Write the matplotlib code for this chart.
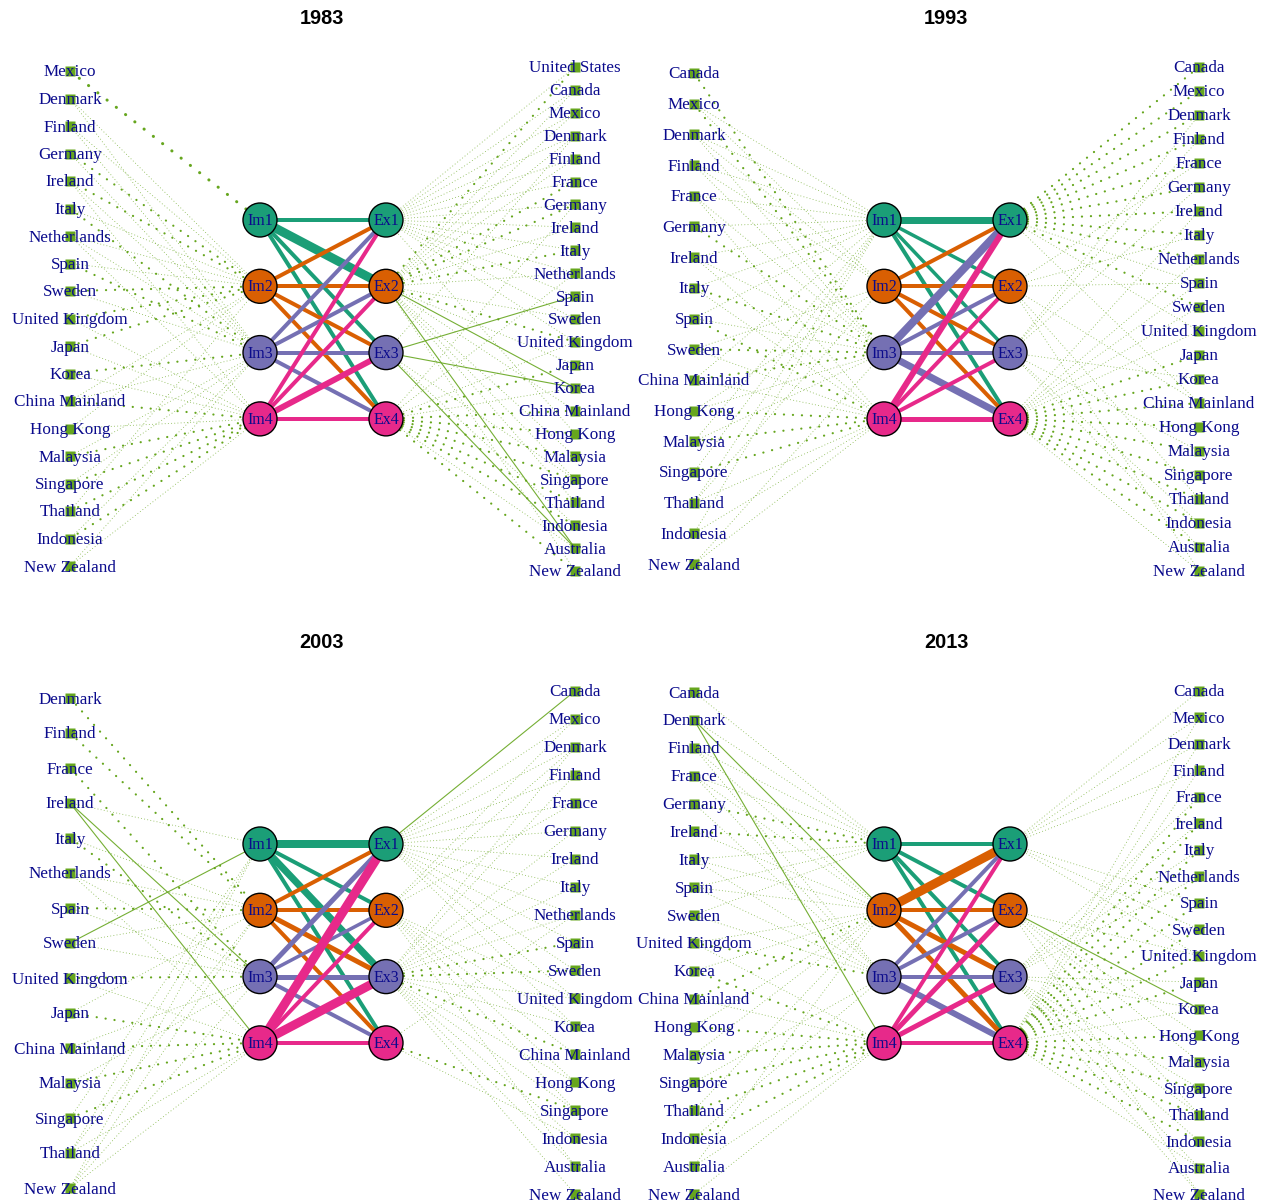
import matplotlib
matplotlib.use("Agg")
import matplotlib.pyplot as plt
from matplotlib.patches import Circle

# ---- data ---------------------------------------------------------------
# left countries -> weights to (Im1, Im2, Im3, Im4)
# right countries -> weights from (Ex1, Ex2, Ex3, Ex4)
# 0 none, 1 thin dotted, 2 medium dotted, 3 heavy dotted, 4 thin solid
left_1983 = {
    "Mexico": (3, 0, 0, 0), "Denmark": (0, 1, 1, 0), "Finland": (0, 1, 1, 0),
    "Germany": (0, 2, 1, 0), "Ireland": (0, 2, 1, 1), "Italy": (0, 1, 2, 0),
    "Netherlands": (0, 1, 1, 1), "Spain": (0, 1, 2, 0), "Sweden": (0, 2, 1, 0),
    "United Kingdom": (0, 2, 0, 1), "Japan": (0, 2, 0, 1), "Korea": (0, 0, 2, 1),
    "China Mainland": (0, 1, 1, 2), "Hong Kong": (0, 1, 0, 1), "Malaysia": (0, 0, 1, 2),
    "Singapore": (0, 0, 1, 2), "Thailand": (0, 1, 0, 2), "Indonesia": (0, 0, 1, 2),
    "New Zealand": (0, 0, 1, 1),
}
right_1983 = {
    "United States": (1, 2, 0, 0), "Canada": (1, 1, 0, 0), "Mexico": (1, 1, 0, 0),
    "Denmark": (1, 1, 1, 0), "Finland": (1, 1, 0, 0), "France": (1, 2, 0, 0),
    "Germany": (1, 2, 0, 1), "Ireland": (1, 1, 0, 0), "Italy": (1, 2, 0, 0),
    "Netherlands": (1, 1, 0, 1), "Spain": (1, 0, 4, 0), "Sweden": (1, 1, 0, 0),
    "United Kingdom": (1, 2, 0, 1), "Japan": (0, 1, 0, 2), "Korea": (0, 4, 4, 1),
    "China Mainland": (0, 1, 0, 2), "Hong Kong": (1, 0, 0, 2), "Malaysia": (0, 1, 0, 2),
    "Singapore": (0, 1, 1, 2), "Thailand": (0, 1, 0, 2), "Indonesia": (0, 0, 1, 2),
    "Australia": (0, 4, 4, 1), "New Zealand": (0, 1, 0, 2),
}
core_1983 = [[4, 9, 4, 4], [4, 4, 4, 4], [4, 4, 4, 4], [4, 4, 6, 4]]

left_1993 = {
    "Canada": (0, 0, 2, 0), "Mexico": (1, 1, 2, 0), "Denmark": (1, 1, 1, 0),
    "Finland": (1, 1, 1, 0), "France": (1, 0, 1, 1), "Germany": (1, 0, 2, 0),
    "Ireland": (1, 0, 1, 1), "Italy": (1, 0, 2, 1), "Spain": (1, 0, 1, 2),
    "Sweden": (0, 1, 2, 1), "China Mainland": (1, 0, 2, 1), "Hong Kong": (0, 1, 1, 2),
    "Malaysia": (1, 0, 1, 2), "Singapore": (1, 0, 0, 2), "Thailand": (1, 1, 0, 1),
    "Indonesia": (1, 0, 0, 1), "New Zealand": (0, 0, 1, 1),
}
right_1993 = {
    "Canada": (2, 0, 0, 0), "Mexico": (2, 0, 0, 0), "Denmark": (2, 0, 1, 0),
    "Finland": (2, 0, 1, 0), "France": (2, 1, 0, 0), "Germany": (2, 0, 1, 0),
    "Ireland": (2, 0, 0, 1), "Italy": (2, 1, 0, 0), "Netherlands": (2, 0, 0, 1),
    "Spain": (1, 1, 0, 1), "Sweden": (2, 0, 0, 1), "United Kingdom": (1, 0, 0, 1),
    "Japan": (0, 0, 0, 2), "Korea": (0, 0, 1, 2), "China Mainland": (1, 1, 0, 2),
    "Hong Kong": (0, 0, 0, 2), "Malaysia": (0, 0, 1, 2), "Singapore": (0, 0, 0, 2),
    "Thailand": (0, 1, 0, 2), "Indonesia": (0, 0, 1, 2), "Australia": (0, 0, 1, 2),
    "New Zealand": (0, 1, 0, 1),
}
core_1993 = [[7, 3.5, 3.5, 4], [4, 4, 4, 4], [8, 4, 4, 7], [6, 4, 4, 5]]

left_2003 = {
    "Denmark": (0, 2, 0, 0), "Finland": (0, 2, 0, 0), "France": (0, 0, 2, 0),
    "Ireland": (1, 0, 4, 4), "Italy": (0, 1, 2, 0), "Netherlands": (0, 1, 1, 1),
    "Spain": (0, 2, 1, 0), "Sweden": (4, 1, 1, 0), "United Kingdom": (0, 0, 2, 1),
    "Japan": (0, 1, 0, 2), "China Mainland": (0, 0, 1, 2), "Malaysia": (0, 0, 1, 2),
    "Singapore": (1, 0, 0, 2), "Thailand": (1, 1, 0, 1), "New Zealand": (1, 1, 1, 1),
}
right_2003 = {
    "Canada": (4, 0, 0, 0), "Mexico": (1, 1, 0, 0), "Denmark": (1, 1, 1, 0),
    "Finland": (1, 0, 1, 0), "France": (1, 1, 0, 0), "Germany": (1, 0, 1, 0),
    "Ireland": (1, 0, 1, 0), "Italy": (1, 0, 1, 0), "Netherlands": (1, 0, 1, 1),
    "Spain": (1, 0, 2, 0), "Sweden": (1, 0, 2, 0), "United Kingdom": (1, 1, 1, 0),
    "Korea": (1, 1, 1, 0), "China Mainland": (0, 1, 2, 0), "Hong Kong": (0, 1, 1, 0),
    "Singapore": (0, 1, 1, 2), "Indonesia": (0, 0, 1, 1), "Australia": (0, 1, 1, 0),
    "New Zealand": (0, 0, 1, 0),
}
core_2003 = [[8, 4, 7, 4], [4, 4, 5, 4], [5, 3.5, 5, 4], [9, 4, 9, 4]]

left_2013 = {
    "Canada": (1, 0, 0, 0), "Denmark": (1, 4, 0, 4), "Finland": (1, 1, 1, 0),
    "France": (1, 1, 1, 0), "Germany": (2, 0, 1, 0), "Ireland": (2, 1, 0, 0),
    "Italy": (1, 1, 1, 0), "Spain": (1, 1, 1, 0), "Sweden": (1, 0, 1, 0),
    "United Kingdom": (0, 1, 2, 1), "Korea": (0, 1, 0, 2), "China Mainland": (0, 2, 0, 1),
    "Hong Kong": (0, 1, 0, 2), "Malaysia": (0, 1, 0, 2), "Singapore": (0, 0, 1, 2),
    "Thailand": (0, 1, 0, 2), "Indonesia": (0, 0, 1, 2), "Australia": (0, 1, 0, 1),
    "New Zealand": (0, 0, 0, 1),
}
right_2013 = {
    "Canada": (1, 0, 0, 0), "Mexico": (1, 0, 0, 1), "Denmark": (1, 0, 0, 1),
    "Finland": (1, 0, 0, 1), "France": (0, 0, 1, 2), "Ireland": (0, 0, 1, 2),
    "Italy": (0, 0, 1, 2), "Netherlands": (0, 0, 1, 2), "Spain": (1, 0, 0, 2),
    "Sweden": (1, 0, 0, 2), "United Kingdom": (1, 1, 0, 2), "Japan": (0, 0, 1, 2),
    "Korea": (0, 4, 1, 1), "Hong Kong": (0, 1, 0, 2), "Malaysia": (0, 1, 0, 2),
    "Singapore": (0, 0, 1, 2), "Thailand": (0, 1, 1, 2), "Indonesia": (0, 0, 1, 2),
    "Australia": (0, 0, 1, 1), "New Zealand": (0, 1, 1, 0),
}
core_2013 = [[4, 4, 4, 4], [9, 4, 5, 5], [4, 4, 4, 6], [4, 5, 5, 4]]

years = ["1983", "1993", "2003", "2013"]
lefts = [left_1983, left_1993, left_2003, left_2013]
rights = [right_1983, right_1993, right_2003, right_2013]
cores = [core_1983, core_1993, core_2003, core_2013]

# ---- layout / style -----------------------------------------------------
W, H = 1267, 1204
node_cols = ["#1B9E77", "#D95F02", "#7570B3", "#E7298A"]
green = "#66A61E"
label_col = "#0A0A8C"
px = 0.72  # points per pixel at dpi 100
serif = ["Liberation Serif", "DejaVu Serif"]

panel_dx, panel_dy = 624, 624
x_left, x_im, x_ex, x_right = 70, 260, 386, 575
node_y0, node_dy, node_r = 220, 66.3, 17
left_span = [(71, 566), (73, 564), (74, 564), (68, 570)]
right_span = [(67, 571), (67, 571), (67, 570), (67, 570)]

edge_style = {
    1: dict(lw=0.75, ls=(0, (0.05, 3.0)), alpha=0.75),
    2: dict(lw=1.6, ls=(0, (0.05, 4.0)), alpha=1.0),
    3: dict(lw=2.2, ls=(0, (0.05, 3.8)), alpha=1.0),
    4: dict(lw=0.8, ls="-", alpha=0.9),
}

fig = plt.figure(figsize=(W / 100, H / 100), dpi=100)
ax = fig.add_axes([0, 0, 1, 1])
ax.set_xlim(0, W)
ax.set_ylim(H, 0)
ax.axis("off")


def spread(n, top, bottom):
    step = (bottom - top) / (n - 1)
    return [top + i * step for i in range(n)]


def link(x1, y1, x2, y2, code):
    st = edge_style[code]
    ax.plot([x1, x2], [y1, y2], color=green, lw=st["lw"], ls=st["ls"],
            alpha=st["alpha"], dash_capstyle="round", solid_capstyle="round",
            zorder=1)


def country(x, y, name):
    ax.plot(x, y, "s", ms=6.8, color=green, mec="none", zorder=4)
    ax.text(x, y + 1.5, name, ha="center", va="center", color=label_col,
            fontsize=12.3, family=serif, zorder=5)


for p, year in enumerate(years):
    ox = (p % 2) * panel_dx
    oy = (p // 2) * panel_dy
    ny = [oy + node_y0 + k * node_dy for k in range(4)]
    xi, xe = ox + x_im, ox + x_ex
    xl, xr = ox + x_left, ox + x_right

    ax.text(ox + 322, oy + 19, year, ha="center", va="center",
            fontsize=14.4, fontweight="bold", family="Liberation Sans")

    # importer side
    names = list(lefts[p].keys())
    ys = spread(len(names), oy + left_span[p][0], oy + left_span[p][1])
    for name, y in zip(names, ys):
        for k, code in enumerate(lefts[p][name]):
            if code:
                link(xl, y, xi, ny[k], code)
        country(xl, y, name)

    # exporter side
    names = list(rights[p].keys())
    ys = spread(len(names), oy + right_span[p][0], oy + right_span[p][1])
    for name, y in zip(names, ys):
        for k, code in enumerate(rights[p][name]):
            if code:
                link(xe, ny[k], xr, y, code)
        country(xr, y, name)

    # Im -> Ex links
    for i in range(4):
        for j in range(4):
            w = cores[p][i][j]
            ax.plot([xi, xe], [ny[i], ny[j]], color=node_cols[i], lw=w * px,
                    solid_capstyle="butt", zorder=2)

    for k in range(4):
        for x, lab in ((xi, "Im%d" % (k + 1)), (xe, "Ex%d" % (k + 1))):
            ax.add_patch(Circle((x, ny[k]), node_r, facecolor=node_cols[k],
                                edgecolor="black", lw=1.0, zorder=3))
            ax.text(x, ny[k] + 1, lab, ha="center", va="center", color=label_col,
                    fontsize=11.5, family=serif, zorder=5)

fig.savefig("out.png", dpi=100)
